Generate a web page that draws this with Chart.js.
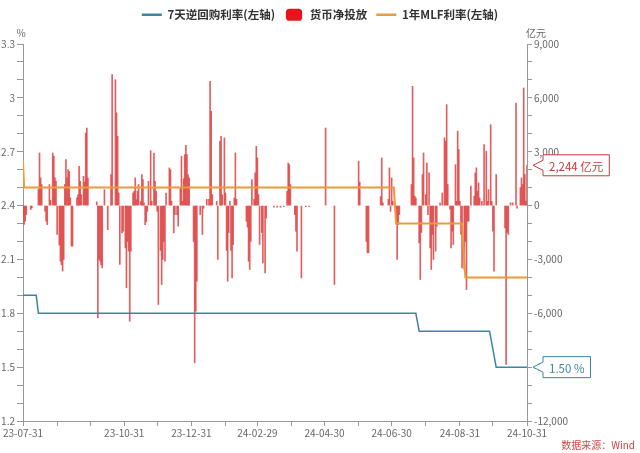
<!DOCTYPE html>
<html>
<head>
<meta charset="utf-8">
<script src="https://cdn.jsdelivr.net/npm/chart.js@4.4.1/dist/chart.umd.min.js"></script>
<style>
  html, body { margin: 0; padding: 0; background: #fff; }
</style>
</head>
<body>
<canvas id="chart" width="640" height="453"></canvas>
<script>
// x values are days since 2023-07-31
const xTickDays = [0, 31, 61, 92, 122, 153, 184, 213, 244, 274, 305, 335, 366, 397, 427, 458];
const xTickLabels = ['23-07-31', '', '', '23-10-31', '', '23-12-31', '', '24-02-29', '', '24-04-30', '', '24-06-30', '', '24-08-31', '', '24-10-31'];

// 7天逆回购利率 (%)
const repoDays = [0, 12, 14, 357, 360, 424, 430, 458];
const repoRate = [1.9, 1.9, 1.8, 1.8, 1.7, 1.7, 1.5, 1.5];

// 1年MLF利率 (%)
const mlfDays = [0, 1, 337, 339, 399, 402, 458];
const mlfRate = [2.65, 2.5, 2.5, 2.3, 2.3, 2.0, 2.0];

// 货币净投放 (亿元)
const barDays = [
  0, 1, 2, 3, 7, 8, 14, 15, 16, 17, 20, 21, 22, 24, 25, 27, 28, 29, 30, 31,
  33, 34, 35, 36, 37, 38, 39, 40, 41, 42, 43, 44, 45, 49, 50, 51, 52, 53, 55, 56,
  57, 58, 59, 67, 68, 69, 70, 71, 72, 74, 77, 80, 81, 84, 85, 86, 87, 88, 90, 91,
  93, 94, 95, 96, 97, 98, 100, 101, 102, 103, 104, 105, 107, 108, 109, 110, 111, 112, 113, 114,
  116, 117, 119, 120, 121, 122, 123, 125, 126, 127, 128, 129, 130, 133, 134, 135, 137, 138, 140, 141,
  143, 144, 145, 146, 147, 148, 149, 150, 151, 155, 156, 157, 158, 161, 163, 164, 167, 169, 170, 171,
  172, 176, 177, 179, 180, 181, 183, 184, 185, 186, 187, 188, 189, 190, 191, 192, 193, 194, 203, 204,
  205, 206, 207, 208, 210, 211, 212, 213, 214, 215, 217, 218, 220, 221, 228, 231, 234, 237, 240, 241,
  242, 243, 247, 248, 249, 253, 257, 260, 275, 283, 305, 306, 312, 313, 314, 325, 326, 327, 332, 333,
  334, 335, 336, 339, 340, 341, 342, 353, 354, 355, 356, 357, 360, 361, 362, 363, 364, 366, 367, 368,
  369, 370, 371, 372, 373, 375, 376, 379, 381, 383, 384, 385, 386, 388, 389, 390, 391, 393, 394, 395,
  396, 397, 398, 399, 401, 402, 403, 404, 405, 407, 410, 411, 412, 413, 414, 415, 417, 419, 421, 422,
  423, 425, 426, 427, 428, 430, 438, 439, 440, 441, 443, 445, 448, 449, 452, 453, 454, 455, 456, 457,
  458
];
const barValues = [
  -600, -1050, -870, -500, -220, -130, 900, 2930, 1540, 1170, -315, -870, -1060, 1170, 300, 2930, 2750, 1540, 1350, -1610,
  -2200, -3100, -3300, -3650, -3000, 1170, 2560, 1540, 2000, 1900, 430, -2260, -2260, 430, 600, 2190, 1350, 610, 1630, 1300,
  4040, 4320, 1540, 200, -6250, -3000, -3100, -3300, -3470, 890, -1340, 1730, 7290, 7010, 5160, 3860, 700, -3280, -1520, -1430,
  -2360, -4580, -2000, -2540, -6440, -2540, 700, 800, 1540, 330, 800, 1170, 240, 1730, 1450, 150, -1060, -900, -320, 1350,
  3060, 240, 2930, 1350, 800, -320, -5510, -2500, -4400, -3000, -1990, -3100, 700, 2100, 2000, 240, -1520, -500, -500, -1150,
  980, 2750, 240, 1500, 2840, 3360, 2840, 1730, 1540, -2000, -8760, -5880, -4210, -500, -1610, -150, 350, 350, 6920, 5250,
  610, 240, -3000, 3580, 3860, 610, 3770, 700, -2500, -4210, -1500, 240, -2500, -4030, -2170, 420, 2930, 350, -870, -1200,
  -3100, -3560, -2000, 1450, 350, 1820, 3300, 2650, 610, -2170, -1500, -3190, -3750, -700, -90, -90, -90, -60, 800, 2370,
  2280, 1170, -500, -1430, -2540, -4030, -60, -60, 4320, -4400, 2470, 1300, -2000, -2630, -2630, 500, 2650, 150, 350, 2100,
  -320, 1540, 240, -1000, -3000, -1060, -500, 1170, 6640, 2650, 520, 420, -2080, -4120, -1500, 1730, 2930, 610, 2370, -500,
  1820, -2360, -3560, -1610, -3000, -2540, -1150, 150, 700, 3770, 3580, 5620, 1170, -200, -2360, -1430, -2170, 2280, 240, 4140,
  3120, 240, -1610, -3470, -3560, -2000, -4680, -870, -870, 1080, 520, 1820, 2100, 800, 1260, 420, 240, 3400, 3020, 240,
  890, 4500, 240, -1430, -3650, 1730, -1240, -8850, -1500, -1610, 150, 150, 5710, -150, 1000, 1540, 1170, 6550, 1730, 240,
  2244
];

const blue = '#3a84a4';
const orange = '#ec9a3a';
const red = '#e8141c';
const fontFamily = '"Microsoft YaHei", "Noto Sans CJK SC", sans-serif';
Chart.defaults.font.family = fontFamily;

function toPoints(xs, ys) {
  return xs.map((x, i) => ({ x: x, y: ys[i] }));
}

// legend needs more room under it than chart.js gives by default
const legendSpace = {
  id: 'legendSpace',
  afterInit(chart) {
    const fit = chart.legend.fit;
    chart.legend.fit = function () {
      fit.call(this);
      this.height = 44;
    };
  }
};

function callout(ctx, tipX, tipY, text, color) {
  ctx.save();
  ctx.font = '11.5px ' + fontFamily;
  const w = ctx.measureText(text).width + 12;
  const h = 21;
  const bx = tipX + 10;
  const by = tipY - h / 2;
  ctx.beginPath();
  ctx.moveTo(bx, by);
  ctx.lineTo(bx + w, by);
  ctx.lineTo(bx + w, by + h);
  ctx.lineTo(bx, by + h);
  ctx.lineTo(bx, tipY + 5);
  ctx.lineTo(tipX, tipY);
  ctx.lineTo(bx, tipY - 5);
  ctx.closePath();
  ctx.fillStyle = '#fff';
  ctx.fill();
  ctx.lineWidth = 1;
  ctx.strokeStyle = color;
  ctx.stroke();
  ctx.fillStyle = color;
  ctx.textAlign = 'center';
  ctx.textBaseline = 'middle';
  ctx.fillText(text, bx + w / 2, tipY + 1);
  ctx.restore();
}

const extras = {
  id: 'extras',
  afterDraw(chart) {
    const ctx = chart.ctx;
    const area = chart.chartArea;
    ctx.save();
    ctx.font = '10px ' + fontFamily;
    ctx.fillStyle = '#666';
    ctx.textBaseline = 'middle';
    ctx.textAlign = 'center';
    ctx.fillText('%', area.left - 2, 33);
    ctx.fillText('亿元', area.right + 9, 33);
    ctx.textAlign = 'right';
    ctx.fillStyle = '#d04545';
    ctx.fillText('数据来源：Wind', 635, 445);
    ctx.restore();

    const lastBar = barValues[barValues.length - 1];
    const lastRepo = repoRate[repoRate.length - 1];
    callout(ctx, area.right + 6, chart.scales.y1.getPixelForValue(lastBar),
      lastBar.toLocaleString('en-US') + ' 亿元', '#c8383c');
    callout(ctx, area.right + 6, chart.scales.y.getPixelForValue(lastRepo),
      lastRepo.toFixed(2) + ' %', blue);
  }
};

const legendColors = [blue, red, orange];

new Chart(document.getElementById('chart'), {
  type: 'bar',
  data: {
    datasets: [
      {
        type: 'line',
        label: '7天逆回购利率(左轴)',
        data: toPoints(repoDays, repoRate),
        borderColor: blue,
        borderWidth: 1.5,
        pointRadius: 0,
        yAxisID: 'y',
        order: 0
      },
      {
        type: 'bar',
        label: '货币净投放',
        data: toPoints(barDays, barValues),
        backgroundColor: 'rgba(222,66,66,0.85)',
        barThickness: 1,
        yAxisID: 'y1',
        order: 2
      },
      {
        type: 'line',
        label: '1年MLF利率(左轴)',
        data: toPoints(mlfDays, mlfRate),
        borderColor: orange,
        borderWidth: 2,
        pointRadius: 0,
        yAxisID: 'y',
        order: 1
      }
    ]
  },
  options: {
    responsive: false,
    animation: false,
    layout: { padding: 0 },
    plugins: {
      tooltip: { enabled: false },
      legend: {
        position: 'top',
        labels: {
          usePointStyle: true,
          pointStyleWidth: 20,
          boxHeight: 10,
          padding: 9,
          color: '#333',
          font: { size: 11.5, weight: 'bold' },
          generateLabels: chart => chart.data.datasets.map((d, i) => ({
            text: d.label,
            datasetIndex: i,
            fillStyle: legendColors[i],
            strokeStyle: legendColors[i],
            lineWidth: d.type === 'bar' ? 0 : 2.5,
            pointStyle: d.type === 'bar' ? 'rectRounded' : 'line',
            fontColor: '#333',
            hidden: false
          }))
        }
      }
    },
    scales: {
      x: {
        type: 'linear',
        min: 0,
        max: 458,
        offset: false,
        afterBuildTicks: s => { s.ticks = xTickDays.map(v => ({ value: v })); },
        afterFit: s => { s.height = 32; },
        ticks: {
          autoSkip: false,
          maxRotation: 0,
          color: '#666',
          font: { size: 10 },
          padding: 1,
          callback: (v, i) => xTickLabels[i]
        },
        grid: { drawOnChartArea: false, tickLength: 5, color: '#999', offset: false },
        border: { color: '#999' }
      },
      y: {
        position: 'left',
        min: 1.2,
        max: 3.3,
        afterBuildTicks: s => {
          const t = [];
          for (let k = 12; k <= 33; k++) t.push({ value: k / 10 });
          s.ticks = t;
        },
        afterFit: s => { s.width = 23; },
        ticks: {
          color: '#666',
          font: { size: 10 },
          padding: 2,
          callback: v => Math.round(v * 10) % 3 === 0 ? String(+v.toFixed(1)) : ''
        },
        grid: { drawOnChartArea: false, tickLength: 6, color: '#999' },
        border: { color: '#999' }
      },
      y1: {
        position: 'right',
        min: -12000,
        max: 9000,
        afterBuildTicks: s => {
          const t = [];
          for (let k = -12; k <= 9; k++) t.push({ value: k * 1000 });
          s.ticks = t;
        },
        afterFit: s => { s.width = 113; },
        ticks: {
          color: '#666',
          font: { size: 10 },
          padding: 2,
          callback: v => v % 3000 === 0 ? v.toLocaleString('en-US') : ''
        },
        grid: { drawOnChartArea: false, tickLength: 5, color: '#999' },
        border: { color: '#999' }
      }
    }
  },
  plugins: [legendSpace, extras]
});
</script>
</body>
</html>
